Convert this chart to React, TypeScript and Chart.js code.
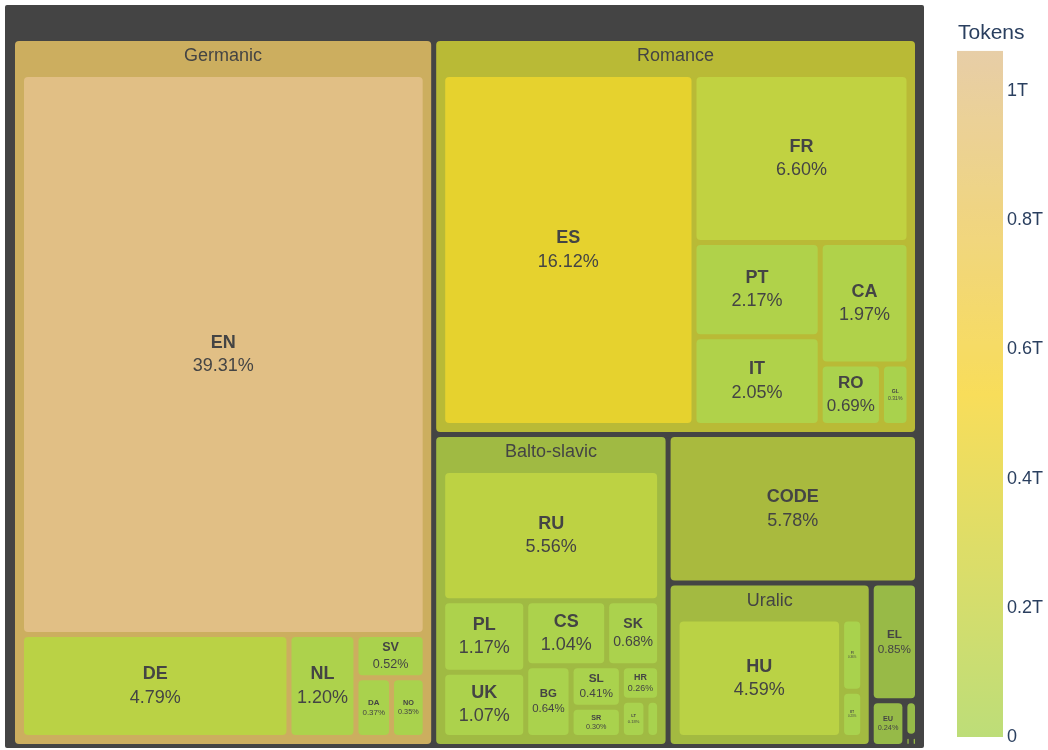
import React, { useEffect, useRef } from "react";
import { Chart, registerables } from "chart.js";

Chart.register(...registerables);

// ---------------- data ----------------
const GERMANIC_LABELS = ["EN", "DE", "NL", "SV", "DA", "NO"];
const GERMANIC_VALUES = [39.31, 4.79, 1.2, 0.52, 0.37, 0.35];

const ROMANCE_LABELS = ["ES", "FR", "PT", "IT", "CA", "RO", "GL"];
const ROMANCE_VALUES = [16.12, 6.6, 2.17, 2.05, 1.97, 0.69, 0.31];

const BALTO_LABELS = ["RU", "PL", "UK", "CS", "SK", "BG", "SL", "SR", "HR", "LT", "LV"];
const BALTO_VALUES = [5.56, 1.17, 1.07, 1.04, 0.68, 0.64, 0.41, 0.3, 0.26, 0.18, 0.1];

const URALIC_LABELS = ["HU", "FI", "ET"];
const URALIC_VALUES = [4.59, 0.36, 0.23];

const SINGLE_LABELS = ["CODE", "EL", "EU", "GA", "MT", "CY"];
const SINGLE_VALUES = [5.78, 0.85, 0.24, 0.07, 0.01, 0.01];

const TOTAL_TOKENS = 2.62e12; // tokens corresponding to 100%

const CB_TICK_VALUES = [0, 0.2e12, 0.4e12, 0.6e12, 0.8e12, 1.0e12];
const CB_TICK_LABELS = ["0", "0.2T", "0.4T", "0.6T", "0.8T", "1T"];

// ---------------- styling ----------------
const FONT = '"Liberation Sans", Arial, sans-serif';
const TEXT_COLOR = "#444444";
const AXIS_TEXT = "#2a3f5f";
const ROOT_COLOR = "#444444";
const CMIN = 0;
const CMAX = 1.062e12;
const CB_MIN = -0.01703e12;
const CB_MAX = 1.1331e12;
const LEAF_STOPS: [number, number[]][] = [
  [0, [168, 210, 78]],
  [0.5, [246, 210, 38]],
  [1, [224, 190, 139]],
];
const TREE_W = 919;
const TREE_H = 743;
const ROOT_PAD = { l: 10, r: 9, t: 36, b: 4 };
const GROUP_PAD = { l: 9, r: 8.5, t: 36, b: 9 };
const INNER = 5;
const RATIO = 1;
const BASE_FONT = 18;

type TNode = {
  label: string;
  value: number;
  color: number;
  children?: TNode[];
  depth: number;
  x0: number;
  y0: number;
  x1: number;
  y1: number;
};

function leaf(label: string, value: number): TNode {
  return { label, value, color: (value / 100) * TOTAL_TOKENS, depth: 0, x0: 0, y0: 0, x1: 0, y1: 0 };
}
function group(label: string, labels: string[], values: number[]): TNode {
  const children = labels.map((l, i) => leaf(l, values[i]));
  const value = children.reduce((s, c) => s + c.value, 0);
  const color = children.reduce((s, c) => s + c.value * c.color, 0) / value;
  return { label, value, color, children, depth: 0, x0: 0, y0: 0, x1: 0, y1: 0 };
}

function buildTree(): TNode {
  const kids: TNode[] = [
    group("Germanic", GERMANIC_LABELS, GERMANIC_VALUES),
    group("Romance", ROMANCE_LABELS, ROMANCE_VALUES),
    group("Balto-slavic", BALTO_LABELS, BALTO_VALUES),
    group("Uralic", URALIC_LABELS, URALIC_VALUES),
    ...SINGLE_LABELS.map((l, i) => leaf(l, SINGLE_VALUES[i])),
  ];
  const value = kids.reduce((s, c) => s + c.value, 0);
  return { label: "", value, color: 0, children: kids, depth: 0, x0: 0, y0: 0, x1: TREE_W, y1: TREE_H };
}

function squarify(nodes: TNode[], x0: number, y0: number, x1: number, y1: number) {
  let value = nodes.reduce((s, n) => s + n.value, 0);
  let i0 = 0;
  let i1 = 0;
  const n = nodes.length;
  while (i0 < n) {
    const dx = x1 - x0;
    const dy = y1 - y0;
    let sumValue = nodes[i1++].value;
    let minValue = sumValue;
    let maxValue = sumValue;
    const alpha = Math.max(dy / dx, dx / dy) / (value * RATIO);
    let beta = sumValue * sumValue * alpha;
    let minRatio = Math.max(maxValue / beta, beta / minValue);
    for (; i1 < n; ++i1) {
      const nv = nodes[i1].value;
      sumValue += nv;
      if (nv < minValue) minValue = nv;
      if (nv > maxValue) maxValue = nv;
      beta = sumValue * sumValue * alpha;
      const newRatio = Math.max(maxValue / beta, beta / minValue);
      if (newRatio > minRatio) {
        sumValue -= nv;
        break;
      }
      minRatio = newRatio;
    }
    const row = nodes.slice(i0, i1);
    if (dx < dy) {
      const ny = y0 + (dy * sumValue) / value;
      let x = x0;
      const k = (x1 - x0) / sumValue;
      row.forEach((c) => {
        c.x0 = x;
        c.y0 = y0;
        c.y1 = ny;
        x += c.value * k;
        c.x1 = x;
      });
      y0 = ny;
    } else {
      const nx = x0 + (dx * sumValue) / value;
      let y = y0;
      const k = (y1 - y0) / sumValue;
      row.forEach((c) => {
        c.x0 = x0;
        c.x1 = nx;
        c.y0 = y;
        y += c.value * k;
        c.y1 = y;
      });
      x0 = nx;
    }
    value -= sumValue;
    i0 = i1;
  }
}

function layoutNode(node: TNode, depth: number) {
  node.depth = depth;
  if (!node.children) return;
  const pad = depth === 0 ? ROOT_PAD : GROUP_PAD;
  const p = INNER / 2;
  const kids = [...node.children].sort((a, b) => b.value - a.value);
  squarify(kids, node.x0 + pad.l - p, node.y0 + pad.t - p, node.x1 - pad.r + p, node.y1 - pad.b + p);
  kids.forEach((c) => {
    c.x0 += p;
    c.y0 += p;
    c.x1 -= p;
    c.y1 -= p;
    layoutNode(c, depth + 1);
  });
}

function scaleColor(v: number): number[] {
  const t = Math.max(0, Math.min(1, (v - CMIN) / (CMAX - CMIN)));
  for (let i = 1; i < LEAF_STOPS.length; i++) {
    const [t0, c0] = LEAF_STOPS[i - 1];
    const [t1, c1] = LEAF_STOPS[i];
    if (t <= t1) {
      const f = (t - t0) / (t1 - t0);
      return c0.map((a, j) => a + (c1[j] - a) * f);
    }
  }
  return LEAF_STOPS[LEAF_STOPS.length - 1][1];
}
const rgb = (c: number[]) => `rgb(${c.map((v) => Math.round(Math.max(0, Math.min(255, v)))).join(",")})`;
function nodeColor(n: TNode): string {
  const c = scaleColor(n.color);
  if (n.depth === 1) return rgb(c.map((v) => v * 0.86 + 5));
  return rgb(c);
}
function barColor(v: number): string {
  const c = scaleColor(v);
  return rgb(c.map((a) => a * 0.76 + 255 * 0.24));
}

function roundRect(ctx: CanvasRenderingContext2D, x: number, y: number, w: number, h: number, r: number) {
  const rr = Math.max(0, Math.min(r, w / 2, h / 2));
  ctx.beginPath();
  ctx.moveTo(x + rr, y);
  ctx.lineTo(x + w - rr, y);
  ctx.arcTo(x + w, y, x + w, y + rr, rr);
  ctx.lineTo(x + w, y + h - rr);
  ctx.arcTo(x + w, y + h, x + w - rr, y + h, rr);
  ctx.lineTo(x + rr, y + h);
  ctx.arcTo(x, y + h, x, y + h - rr, rr);
  ctx.lineTo(x, y + rr);
  ctx.arcTo(x, y, x + rr, y, rr);
  ctx.closePath();
}

const treemapPlugin = {
  id: "treemapPlugin",
  beforeDatasetsDraw(chart: any) {
    const ctx: CanvasRenderingContext2D = chart.ctx;
    const xs = chart.scales.x;
    const ys = chart.scales.y;
    const cb = chart.scales.cb;
    const root = buildTree();
    layoutNode(root, 0);

    const drawNode = (n: TNode) => {
      const px0 = xs.getPixelForValue(n.x0);
      const px1 = xs.getPixelForValue(n.x1);
      const py0 = ys.getPixelForValue(n.y0);
      const py1 = ys.getPixelForValue(n.y1);
      const w = px1 - px0;
      const h = py1 - py0;
      if (w <= 0 || h <= 0) return;
      ctx.save();
      ctx.fillStyle = n.depth === 0 ? ROOT_COLOR : nodeColor(n);
      roundRect(ctx, px0, py0, w, h, n.depth === 0 ? 2 : 4);
      ctx.fill();
      ctx.fillStyle = TEXT_COLOR;
      ctx.textAlign = "center";
      ctx.textBaseline = "middle";
      if (n.children) {
        if (n.label) {
          ctx.font = `${BASE_FONT}px ${FONT}`;
          ctx.fillText(n.label, (px0 + px1) / 2, py0 + 15);
        }
      } else {
        const valText = `${n.value.toFixed(2)}%`;
        ctx.font = `bold ${BASE_FONT}px ${FONT}`;
        const w1 = ctx.measureText(n.label).width;
        ctx.font = `${BASE_FONT}px ${FONT}`;
        const w2 = ctx.measureText(valText).width;
        const tw = Math.max(w1, w2);
        const s = Math.min(1, (w - 8) / tw, (h - 8) / (2.4 * BASE_FONT));
        const f = BASE_FONT * s;
        if (f >= 2.5) {
          const cx = (px0 + px1) / 2;
          const cy = (py0 + py1) / 2;
          ctx.font = `bold ${f}px ${FONT}`;
          ctx.fillText(n.label, cx, cy - 0.65 * f);
          ctx.font = `${f}px ${FONT}`;
          ctx.fillText(valText, cx, cy + 0.65 * f);
        }
      }
      ctx.restore();
      if (n.children) n.children.forEach(drawNode);
    };
    drawNode(root);

    // colorbar
    const top = cb.getPixelForValue(CMAX);
    const bottom = cb.getPixelForValue(CMIN);
    const grad = ctx.createLinearGradient(0, bottom, 0, top);
    for (let i = 0; i <= 40; i++) {
      const t = i / 40;
      grad.addColorStop(t, barColor(CMIN + t * (CMAX - CMIN)));
    }
    ctx.save();
    ctx.fillStyle = grad;
    const bx = cb.left + 33;
    ctx.fillRect(bx, top, 46, bottom - top);
    ctx.fillStyle = AXIS_TEXT;
    ctx.font = `21px ${FONT}`;
    ctx.textAlign = "left";
    ctx.textBaseline = "middle";
    ctx.fillText("Tokens", bx + 1, 33);
    ctx.restore();
  },
};

export default function App() {
  const ref = useRef<HTMLCanvasElement | null>(null);
  useEffect(() => {
    document.body.style.margin = "0";
    const canvas = ref.current;
    if (!canvas) return;
    const chart = new Chart(canvas, {
      type: "scatter",
      data: { datasets: [{ data: [] }] },
      options: {
        animation: false,
        responsive: false,
        maintainAspectRatio: false,
        devicePixelRatio: 1,
        events: [],
        layout: { padding: { left: 5, top: 5, right: 5, bottom: 2 } },
        plugins: { legend: { display: false }, tooltip: { enabled: false }, title: { display: false } },
        scales: {
          x: { type: "linear", display: false, min: 0, max: TREE_W },
          y: { type: "linear", display: false, min: 0, max: TREE_H, reverse: true },
          cb: {
            type: "linear",
            position: "right",
            min: CB_MIN,
            max: CB_MAX,
            grid: { display: false, drawTicks: false },
            border: { display: false },
            afterBuildTicks: (axis: any) => {
              axis.ticks = CB_TICK_VALUES.map((v) => ({ value: v }));
            },
            afterFit: (axis: any) => {
              axis.width = 119;
              axis.paddingTop = 0;
              axis.paddingBottom = 0;
            },
            ticks: {
              padding: 83,
              color: AXIS_TEXT,
              font: { family: FONT, size: 18 },
              callback: (v: any) => {
                const i = CB_TICK_VALUES.indexOf(Number(v));
                return i >= 0 ? CB_TICK_LABELS[i] : "";
              },
            },
          },
        },
      },
      plugins: [treemapPlugin],
    } as any);
    return () => chart.destroy();
  }, []);
  return (
    <div style={{ position: "absolute", left: 0, top: 0, width: 1048, height: 750 }}>
      <canvas ref={ref} width={1048} height={750} style={{ width: 1048, height: 750, display: "block" }} />
    </div>
  );
}
